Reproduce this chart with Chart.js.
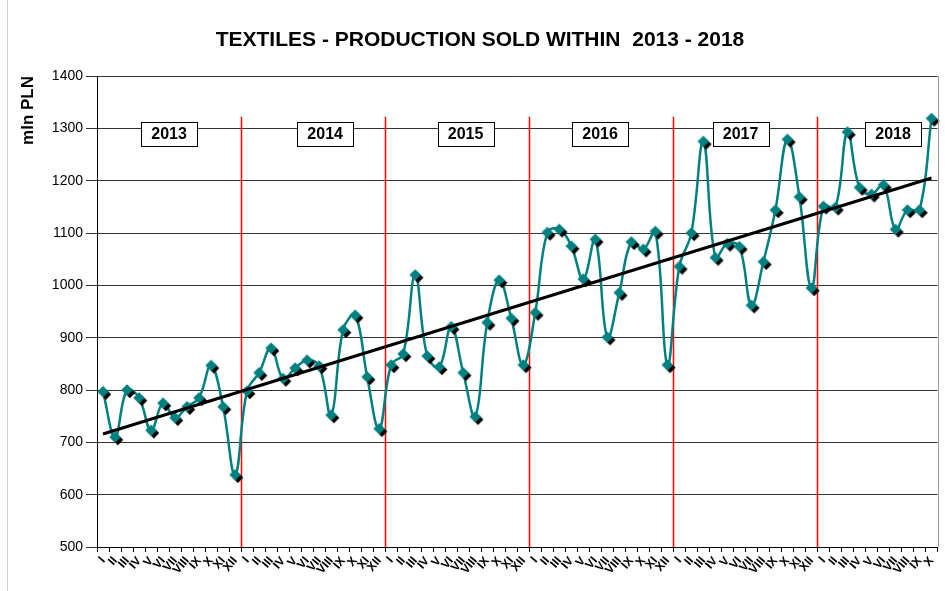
<!DOCTYPE html>
<html>
<head>
<meta charset="utf-8">
<title>Textiles - production sold</title>
<script src="https://cdn.jsdelivr.net/npm/chart.js@4/dist/chart.umd.min.js"></script>
<style>
  body { margin: 0; background: #fff; }
  #wrap { width: 945px; height: 591px; position: relative; }
</style>
</head>
<body>
<div id="wrap"><canvas id="myChart" width="945" height="591"></canvas></div>
<script>
// monthly values, mln PLN
const months = ['I','II','III','IV','V','VI','VII','VIII','IX','X','XI','XII'];
const years = ['2013', '2014', '2015', '2016', '2017', '2018'];
const v2013 = [797, 710, 800, 785, 723, 775, 747, 768, 785, 847, 768, 638];
const v2014 = [798, 833, 880, 822, 842, 857, 846, 752, 915, 943, 825, 726];
const v2015 = [848, 869, 1020, 865, 844, 921, 833, 749, 929, 1010, 937, 848];
const v2016 = [948, 1101, 1107, 1075, 1012, 1088, 901, 986, 1083, 1069, 1103, 848];
const v2017 = [1036, 1100, 1275, 1053, 1080, 1074, 962, 1045, 1144, 1279, 1169, 995];
const v2018 = [1151, 1149, 1293, 1187, 1174, 1192, 1107, 1144, 1144, 1319];
// trend line end values
const trendStart = 716;
const trendEnd = 1205;
const chartTitle = 'TEXTILES - PRODUCTION SOLD WITHIN  2013 - 2018';

let labels = [];
let values = [];
[v2013, v2014, v2015, v2016, v2017, v2018].forEach(arr => {
    arr.forEach((v, i) => {
        labels.push(months[i]);
        values.push(v);
    });
});
let trend = values.map(() => null);
trend[0] = trendStart;
trend[trend.length - 1] = trendEnd;

// diamond marker with black shadow
function makeMarker() {
    const c = document.createElement('canvas');
    c.width = 22; c.height = 22;
    const g = c.getContext('2d');
    function diamond(cx, cy, r, col) {
        g.beginPath();
        g.moveTo(cx, cy - r);
        g.lineTo(cx + r, cy);
        g.lineTo(cx, cy + r);
        g.lineTo(cx - r, cy);
        g.closePath();
        g.fillStyle = col;
        g.fill();
    }
    diamond(13.8, 13.8, 5.4, '#000');
    diamond(11, 11, 5.8, '#008080');
    return c;
}
const marker = makeMarker();

const yearMarks = {
    id: 'yearMarks',
    beforeDatasetsDraw(chart) {
        const ctx = chart.ctx;
        const x = chart.scales.x, y = chart.scales.y;
        const area = chart.chartArea;
        ctx.save();
        // red separators between years
        ctx.strokeStyle = '#ff0000';
        ctx.lineWidth = 1.5;
        for (let k = 1; k < years.length; k++) {
            let idx = k * 12;
            let px = Math.round((x.getPixelForValue(idx - 1) + x.getPixelForValue(idx)) / 2) + 0.5;
            ctx.beginPath();
            ctx.moveTo(px, y.getPixelForValue(1322));
            ctx.lineTo(px, area.bottom);
            ctx.stroke();
        }
        // year boxes
        const pos = [5.5, 18.5, 30.2, 41.4, 53.1, 65.8];
        ctx.font = 'bold 16px "Liberation Sans", Arial, sans-serif';
        ctx.textAlign = 'center';
        ctx.textBaseline = 'middle';
        years.forEach((yr, i) => {
            let cx = x.getPixelForValue(pos[i]);
            let cy = y.getPixelForValue(1290);
            let bx = Math.round(cx - 28) + 0.5, by = Math.round(cy - 12) + 0.5;
            ctx.fillStyle = '#fff';
            ctx.fillRect(bx, by, 56, 24);
            ctx.strokeStyle = '#000';
            ctx.lineWidth = 1;
            ctx.strokeRect(bx, by, 56, 24);
            ctx.fillStyle = '#000';
            ctx.fillText(yr, cx, cy + 1);
        });
        ctx.restore();
    },
    afterDraw(chart) {
        const ctx = chart.ctx;
        const area = chart.chartArea;
        ctx.save();
        ctx.strokeStyle = '#9a9a9a';
        ctx.lineWidth = 1;
        ctx.beginPath();
        ctx.moveTo(Math.round(area.right) + 0.5, area.top);
        ctx.lineTo(Math.round(area.right) + 0.5, area.bottom);
        ctx.stroke();
        // outer frame on the left
        ctx.strokeStyle = '#d0d0d0';
        ctx.beginPath();
        ctx.moveTo(7.5, 0);
        ctx.lineTo(7.5, 591);
        ctx.stroke();
        // title
        ctx.fillStyle = '#000';
        ctx.font = 'bold 21px "Liberation Sans", Arial, sans-serif';
        ctx.textAlign = 'center';
        ctx.textBaseline = 'middle';
        ctx.fillText(chartTitle, 480, 40);
        ctx.restore();
    }
};

const data = {
    labels: labels,
    datasets: [{
        label: 'Production sold',
        data: values,
        borderColor: '#008080',
        borderWidth: 2.5,
        tension: 0.4,
        pointStyle: marker,
        pointRadius: 5,
        order: 2
    }, {
        label: 'Trend',
        data: trend,
        borderColor: '#000',
        borderWidth: 3,
        spanGaps: true,
        pointRadius: 0,
        order: 1
    }]
};

const config = {
    type: 'line',
    data: data,
    plugins: [yearMarks],
    options: {
        responsive: false,
        animation: false,
        layout: { padding: { left: 0, right: 6, top: 76, bottom: 0 } },
        plugins: {
            legend: { display: false },
            tooltip: { enabled: false },
            title: { display: false }
        },
        scales: {
            x: {
                offset: true,
                afterFit: function(scale) { scale.height = 44; },
                grid: { offset: true, drawOnChartArea: false, drawTicks: true, tickLength: 5, color: '#000' },
                border: { color: '#000', width: 1 },
                ticks: {
                    autoSkip: false,
                    maxRotation: 50,
                    minRotation: 50,
                    padding: 2,
                    color: '#000',
                    font: { family: '"Liberation Sans", Arial, sans-serif', size: 12, weight: 'bold' }
                }
            },
            y: {
                min: 500,
                max: 1400,
                afterFit: function(scale) { scale.width = 97; },
                grid: { color: '#333', lineWidth: 1, tickLength: 11 },
                border: { color: '#000', width: 1 },
                ticks: {
                    stepSize: 100,
                    padding: 3,
                    color: '#000',
                    font: { family: '"Liberation Sans", Arial, sans-serif', size: 14 },
                    callback: function(value) { return String(value); }
                },
                title: {
                    display: true,
                    text: 'mln PLN',
                    align: 'end',
                    color: '#000',
                    font: { family: '"Liberation Sans", Arial, sans-serif', size: 17, weight: 'bold' },
                    padding: { top: 18, bottom: 0 }
                }
            }
        }
    }
};

const myChart = new Chart(document.getElementById('myChart'), config);
</script>
</body>
</html>
